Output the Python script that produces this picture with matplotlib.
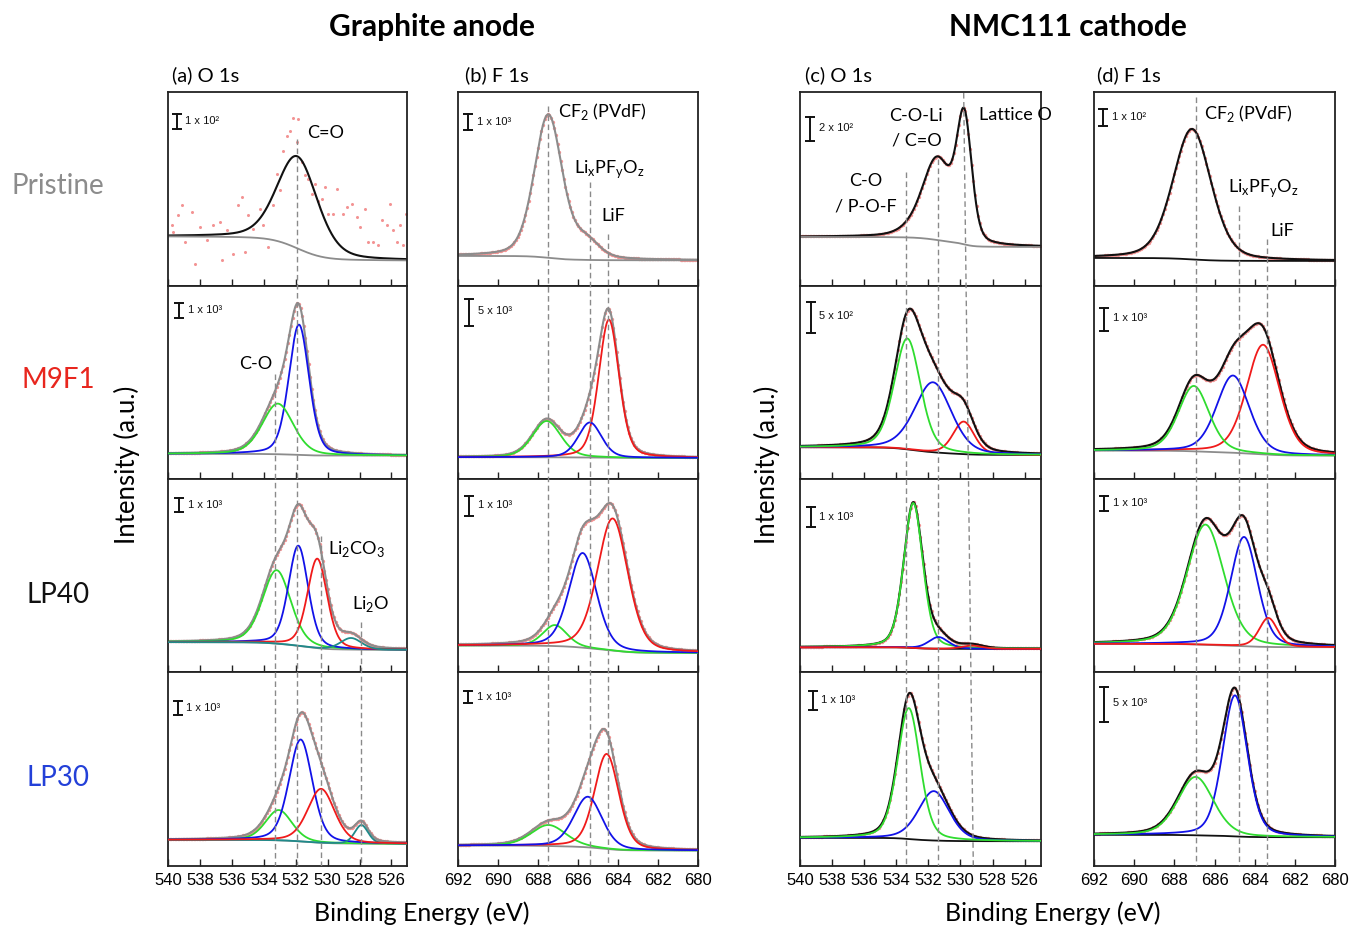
import numpy as np
import matplotlib
matplotlib.use('Agg')
import matplotlib.pyplot as plt

plt.rcParams['font.family'] = 'Liberation Sans'

# ---- binding energy windows ----
o1s_lim = (540, 525)
f1s_lim = (692, 680)
o1s_ticks = [540, 538, 536, 534, 532, 530, 528, 526]
f1s_ticks = [692, 690, 688, 686, 684, 682, 680]

samples = ['Pristine', 'M9F1', 'LP40', 'LP30']
sample_colors = ['#8c8c8c', '#e8261e', '#111111', '#2340d8']
col_titles = ['(a) O 1s', '(b) F 1s', '(c) O 1s', '(d) F 1s']

# ---- intensity scale bars (counts), rows top to bottom ----
bar_a = [100, 1000, 1000, 1000]
bar_b = [1000, 5000, 1000, 1000]
bar_c = [200, 500, 1000, 1000]
bar_d = [100, 1000, 1000, 5000]

# upper y limit of each panel (counts)
ytop_a = [1250, 13500, 13500, 12890]
ytop_b = [12080, 35800, 9670, 15210]
ytop_c = [1660, 3050, 9670, 9670]
ytop_d = [1160, 8410, 12890, 27620]

# Shirley background end levels (high BE side, low BE side)
bg_a = [(318, 163), (1750, 1630), (2100, 1560), (1713, 1447)]
bg_b = [(1856, 1581), (4020, 3890), (1335, 965), (1574, 1180)]
bg_c = [(418, 332), (500, 378), (1250, 1165), (1385, 1215)]
bg_d = [(166, 148), (1231, 1013), (1890, 1667), (4386, 4044)]

# fitted components: (position eV, height counts, FWHM eV)
peaks_a1 = [(531.9, 595, 3.0)]
peaks_a2 = [(531.8, 9100, 1.5), (533.13, 3535, 2.3)]
peaks_a3 = [(533.2, 5130, 2.09), (531.84, 7000, 1.46), (530.65, 6250, 1.46), (528.53, 810, 1.57)]
peaks_a4 = [(533.07, 2020, 1.96), (531.69, 6800, 1.73), (527.88, 1240, 1.0), (530.41, 3600, 2.0)]
peaks_b1 = [(687.5, 8919, 1.65), (685.6, 1063, 1.5)]
peaks_b2 = [(687.58, 6720, 1.67), (684.47, 25560, 1.2), (685.42, 6480, 1.37)]
peaks_b3 = [(687.17, 1050, 1.42), (685.78, 4735, 1.63), (684.28, 6615, 1.8)]
peaks_b4 = [(687.49, 1653, 2.04), (684.58, 7477, 1.44), (685.52, 3982, 1.67)]
peaks_c1 = [(533.3, 26, 1.8), (531.45, 686, 2.2), (529.76, 1012, 1.1)]
peaks_c2 = [(529.8, 514, 1.57), (531.71, 1104, 2.7), (533.31, 1750, 1.92)]
peaks_c3 = [(532.94, 7250, 1.4), (531.37, 585, 1.46), (529.3, 165, 1.5)]
peaks_c4 = [(531.66, 2470, 2.28), (533.22, 6550, 1.65)]
peaks_d1 = [(687.12, 783, 2.25)]
peaks_d2 = [(683.58, 4770, 1.95), (685.08, 3360, 1.92), (687.03, 2845, 1.8)]
peaks_d3 = [(686.45, 8020, 2.17), (684.53, 7290, 1.58), (683.32, 1935, 1.08)]
peaks_d4 = [(684.98, 20150, 1.46), (686.94, 8345, 2.1)]

# measured points, pristine anode O 1s (noisy, low signal)
raw_a1_be = [539.79, 539.68, 539.37, 539.16, 538.95, 538.53, 538.32, 538.01, 537.59, 537.17,
             536.75, 536.65, 536.34, 535.92, 535.60, 535.39, 535.19, 534.98, 534.66, 534.24,
             534.03, 533.72, 533.41, 533.20, 532.99, 532.78, 532.57, 532.36, 532.15, 531.84,
             531.94, 531.63, 531.42, 531.21, 531.00, 530.79, 530.58, 530.37, 530.16, 529.95,
             529.64, 529.43, 529.01, 528.80, 528.49, 528.18, 527.97, 527.65, 527.44, 527.13,
             526.82, 526.61, 526.29, 526.08, 525.87, 525.66, 525.46, 525.25, 525.08]
raw_a1_cts = [389, 346, 454, 518, 282, 475, 142, 378, 292, 389,
              411, 163, 357, 206, 518, 572, 217, 454, 368, 497,
              389, 249, 518, 722, 615, 873, 970, 1002, 1081, 1077,
              927, 798, 712, 690, 593, 658, 550, 559, 636, 464,
              464, 626, 464, 507, 529, 443, 378, 497, 282, 282,
              260, 421, 389, 529, 357, 282, 389, 260, 464]

# reference positions marked by dashed lines: (BE at top, BE at bottom, start y px)
marks_a = [(531.9, 531.9, 140), (533.3, 533.3, 375), (530.4, 530.4, 537), (527.9, 527.9, 623)]
marks_b = [(687.5, 687.5, 107), (685.4, 685.4, 183), (684.5, 684.5, 235)]
marks_c = [(533.37, 533.37, 173), (531.37, 531.37, 160), (529.8, 529.2, 94)]
marks_d = [(686.9, 686.9, 98), (684.8, 684.8, 207), (683.4, 683.4, 240)]

# ---- styles ----
GREEN = '#2fdc2f'
BLUE = '#1212e8'
RED = '#f01a1a'
TEAL = '#1f8a8a'
GRAY = '#8c8c8c'
BLACK = '#111111'
DOT = '#f39393'

comp_cols = {
    'a': [[], [BLUE, GREEN], [GREEN, BLUE, RED, TEAL], [GREEN, BLUE, TEAL, RED]],
    'b': [[], [GREEN, RED, BLUE], [GREEN, BLUE, RED], [GREEN, RED, BLUE]],
    'c': [[], [RED, BLUE, GREEN], [GREEN, BLUE, RED], [BLUE, GREEN]],
    'd': [[], [RED, BLUE, GREEN], [GREEN, BLUE, RED], [BLUE, GREEN]],
}
env_cols = {'a': [BLACK, GRAY, GRAY, GRAY], 'b': [GRAY] * 4,
            'c': [BLACK] * 4, 'd': [BLACK] * 4}
bg_cols = {'a': [GRAY] * 4, 'b': [GRAY] * 4,
           'c': [GRAY, BLACK, BLACK, BLACK], 'd': [BLACK, GRAY, GRAY, BLACK]}

# scale bar placement: (x in axes fraction, px below panel top)
bar_pos = {
    'a': [(0.036, 21.7), (0.046, 17.7), (0.046, 19), (0.039, 28.3)],
    'b': [(0.042, 21.7), (0.045, 13.4), (0.045, 16.7), (0.042, 18.3)],
    'c': [(0.042, 25), (0.045, 16), (0.045, 28.3), (0.053, 18.3)],
    'd': [(0.038, 16.7), (0.042, 22), (0.042, 16.7), (0.042, 15)],
}

W, H = 1349, 928
col_left = {'a': 168.3, 'b': 458.3, 'c': 800.0, 'd': 1094.0}
col_w = {'a': 239.0, 'b': 240.0, 'c': 240.7, 'd': 241.0}
row_top, row_h = 93.3, 193.3


def fx(x):
    return x / W


def fy(y):
    return 1 - y / H


def pvoigt(x, c, h, w, eta=0.3):
    t = (x - c) / w
    return h * ((1 - eta) * np.exp(-4 * np.log(2) * t ** 2) + eta / (1 + 4 * t ** 2))


def model(x, peaks, levels):
    # x runs from high to low binding energy
    comps = [pvoigt(x, *p) for p in peaks]
    total = np.sum(comps, axis=0)
    area = np.cumsum(total[::-1])[::-1]
    bg = levels[1] + (levels[0] - levels[1]) * area / area[0]
    return bg, comps, bg + total


def sup(n):
    return {2: '\u00b2', 3: '\u00b3'}[n]


fig = plt.figure(figsize=(W / 100, H / 100), dpi=100)

data = {
    'a': ([peaks_a1, peaks_a2, peaks_a3, peaks_a4], bg_a, ytop_a, bar_a, o1s_lim, o1s_ticks, marks_a),
    'b': ([peaks_b1, peaks_b2, peaks_b3, peaks_b4], bg_b, ytop_b, bar_b, f1s_lim, f1s_ticks, marks_b),
    'c': ([peaks_c1, peaks_c2, peaks_c3, peaks_c4], bg_c, ytop_c, bar_c, o1s_lim, o1s_ticks, marks_c),
    'd': ([peaks_d1, peaks_d2, peaks_d3, peaks_d4], bg_d, ytop_d, bar_d, f1s_lim, f1s_ticks, marks_d),
}

for key, (peaks, bgs, ytops, bars, lim, ticks, marks) in data.items():
    x0, w = col_left[key], col_w[key]
    x = np.linspace(lim[0], lim[1], 601)
    for r in range(4):
        top = row_top + r * row_h
        ax = fig.add_axes([fx(x0), fy(top + row_h), w / W, row_h / H])
        bg, comps, env = model(x, peaks[r], bgs[r])

        if key == 'a' and r == 0:
            ax.plot(raw_a1_be, raw_a1_cts, 'o', ms=2.2, color=DOT, mec='none', zorder=1)
        else:
            ax.plot(x[::4], env[::4], 'o', ms=2.4, color=DOT, mec='none', zorder=1)

        ax.plot(x, env, color=env_cols[key][r], lw=1.5, zorder=2)
        ax.plot(x, bg, color=bg_cols[key][r], lw=1.3, zorder=2)
        if r > 0:
            for comp, c in zip(comps, comp_cols[key][r]):
                ax.plot(x, bg + comp, color=c, lw=1.3, zorder=3)

        ax.set_xlim(*lim)
        ax.set_ylim(0, ytops[r])
        ax.set_yticks([])
        ax.set_xticks(ticks)
        ax.tick_params(axis='x', direction='in', length=5, width=1, top=False,
                       labelbottom=(r == 3), labelsize=12, pad=5, color='#222222')
        for s in ax.spines.values():
            s.set_linewidth(1.3)
            s.set_color('#222222')

        # intensity scale bar
        bx, boff = bar_pos[key][r]
        ytb = ytops[r] * (1 - boff / row_h)
        trans = ax.get_yaxis_transform()
        ax.plot([bx, bx], [ytb - bars[r], ytb], color=BLACK, lw=1.4, transform=trans,
                marker='_', ms=7, mew=1.4, zorder=4)
        e = int(np.floor(np.log10(bars[r])))
        m = int(round(bars[r] / 10 ** e))
        ax.text(bx + 0.035, ytb - bars[r] * 0.42, f'{m} x 10{sup(e)}', transform=trans,
                fontsize=8, va='center', ha='left', color=BLACK)

    # dashed reference lines running down the column
    ov = fig.add_axes([fx(x0), fy(row_top + 4 * row_h), w / W, 4 * row_h / H], zorder=10)
    ov.set_xlim(*lim)
    ov.set_ylim(row_top + 4 * row_h, row_top)
    ov.axis('off')
    ov.patch.set_visible(False)
    for be_top, be_bot, y0 in marks:
        ov.plot([be_top, be_bot], [y0, row_top + 4 * row_h], color='#8a8a8a', lw=1.0,
                dashes=(4, 2.5))

# ---- headings and labels ----
LATO = 'Lato'
fig.text(fx(432), fy(27), 'Graphite anode', family=LATO, weight='bold', fontsize=21.5,
         ha='center', va='center')
fig.text(fx(1068), fy(27), 'NMC111 cathode', family=LATO, weight='bold', fontsize=21.5,
         ha='center', va='center')
for t, xl in zip(col_titles, [172, 465, 805, 1097]):
    fig.text(fx(xl), fy(75), t, family=LATO, fontsize=14.5, ha='left', va='center')

for name, c, yc in zip(samples, sample_colors, [186, 380, 595, 778]):
    fig.text(fx(58), fy(yc), name, family=LATO, fontsize=20, color=c, ha='center', va='center')

for xl in [127, 767]:
    fig.text(fx(xl), fy(465), 'Intensity (a.u.)', family=LATO, fontsize=18.5, rotation=90,
             ha='center', va='center')
for xl in [422, 1053]:
    fig.text(fx(xl), fy(913), 'Binding Energy (eV)', family=LATO, fontsize=18,
             ha='center', va='center')

pfo = r'Li$_\mathregular{x}$PF$_\mathregular{y}$O$_\mathregular{z}$'
cf2 = r'CF$_\mathregular{2}$ (PVdF)'
notes = [
    ('C=O', 326, 133, 'center'),
    ('C-O', 256, 364, 'center'),
    (r'Li$_\mathregular{2}$CO$_\mathregular{3}$', 328, 549, 'left'),
    (r'Li$_\mathregular{2}$O', 352, 604, 'left'),
    (cf2, 558, 111, 'left'),
    (pfo, 574, 169, 'left'),
    ('LiF', 601, 216, 'left'),
    ('C-O-Li', 916, 116, 'center'),
    ('/ C=O', 917, 141, 'center'),
    ('Lattice O', 979, 115, 'left'),
    ('C-O', 866, 181, 'center'),
    ('/ P-O-F', 866, 206, 'center'),
    (cf2, 1204, 113, 'left'),
    (pfo, 1228, 188, 'left'),
    ('LiF', 1270, 231, 'left'),
]
for txt, xp, yp, ha in notes:
    fig.text(fx(xp), fy(yp), txt, family=LATO, fontsize=13, ha=ha, va='center', zorder=20)

fig.savefig('out.png', dpi=100)
